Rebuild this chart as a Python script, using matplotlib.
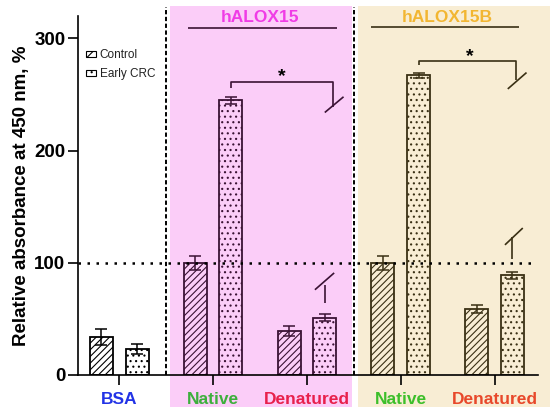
import matplotlib.pyplot as plt
from matplotlib.patches import Patch, Rectangle
from matplotlib.transforms import blended_transform_factory

plt.rcParams.update({
    "font.family": ["Liberation Sans", "DejaVu Sans"],
    "font.weight": "bold",
    "axes.labelweight": "bold",
    "hatch.linewidth": 0.8,
})

PINK = "#FBCDF8"
BEIGE = "#F8EDD4"
PINK_EDGE = "#3A1234"
BEIGE_EDGE = "#3A3014"

groups = ["BSA", "Native", "Denatured", "Native", "Denatured"]
group_colors = ["#2233E6", "#3DAF3D", "#E8204C", "#3DBF2A", "#E8482A"]
control = [34, 100, 39, 100, 59]
control_err = [7, 6, 4.5, 6, 3.5]
early_crc = [23, 245, 51, 267, 89]
early_crc_err = [4.5, 3, 3, 2, 3]

face = ["white", PINK, PINK, BEIGE, BEIGE]
edge = ["black", PINK_EDGE, PINK_EDGE, BEIGE_EDGE, BEIGE_EDGE]

fig = plt.figure(figsize=(5.5, 4.15), dpi=100)
ax = fig.add_axes([0.1418, 0.0964, 0.836, 0.865])
ax.patch.set_alpha(0)
ax.set_xlim(-0.44, 4.46)
ax.set_ylim(0, 320)

blend = blended_transform_factory(ax.transData, ax.transAxes)
ax.add_patch(Rectangle((0.543, -0.089), 2.479 - 0.543, 1.117, transform=blend,
                       facecolor=PINK, edgecolor="none", zorder=0, clip_on=False))
ax.add_patch(Rectangle((2.54, -0.089), 2.1, 1.117, transform=blend,
                       facecolor=BEIGE, edgecolor="none", zorder=0, clip_on=False))

for xv in (0.5, 2.5):
    ax.plot([xv, xv], [0, 1.026], transform=blend, color="black", lw=1.4,
            ls=(0, (2.2, 1.3)), clip_on=False, zorder=1)

ax.axhline(100, xmin=0, xmax=0.99, color="black", lw=1.8, ls=(0, (1, 2.6)), zorder=4)

off = 0.19
width = 0.245
for i in range(len(groups)):
    ax.bar(i - off, control[i], width, facecolor=face[i], edgecolor=edge[i],
           hatch="/////", lw=1.3, zorder=2)
    ax.bar(i + off, early_crc[i], width, facecolor=face[i], edgecolor=edge[i],
           hatch="...", lw=1.3, zorder=2)
    ax.errorbar(i - off, control[i], yerr=control_err[i], color=edge[i], capsize=4.5,
                lw=1.1, capthick=1.1, zorder=3)
    ax.errorbar(i + off, early_crc[i], yerr=early_crc_err[i], color=edge[i], capsize=4.5,
                lw=1.1, capthick=1.1, zorder=3)

# significance brackets with axis-break slashes
def seg(xs, ys, c):
    ax.plot(xs, ys, color=c, lw=1.2, clip_on=False, zorder=3, solid_capstyle="butt")

seg([1.19, 1.19, 2.28, 2.28], [256, 261.6, 261.6, 239], PINK_EDGE)
seg([2.19, 2.39], [234, 248], PINK_EDGE)
seg([2.19, 2.19], [64, 80], PINK_EDGE)
seg([2.085, 2.29], [76, 91], PINK_EDGE)
ax.text(1.73, 266, "*", ha="center", va="center", fontsize=14, color="black")

seg([3.19, 3.19, 4.23, 4.23], [276, 279.5, 279.5, 263.4], BEIGE_EDGE)
seg([4.14, 4.34], [255, 269.6], BEIGE_EDGE)
seg([4.19, 4.19], [103.6, 123], BEIGE_EDGE)
seg([4.11, 4.30], [116, 131], BEIGE_EDGE)
ax.text(3.73, 284, "*", ha="center", va="center", fontsize=14, color="black")

seg([0.73, 2.32], [309, 309], PINK_EDGE)
seg([2.68, 4.26], [310, 310], BEIGE_EDGE)
ax.text(1.5, 319, "hALOX15", ha="center", va="center", fontsize=12.5, color="#F03CE6")
ax.text(3.5, 319, "hALOX15B", ha="center", va="center", fontsize=12.5, color="#F2B632")

for s in ("top", "right"):
    ax.spines[s].set_visible(False)
ax.spines["left"].set_linewidth(1.2)
ax.spines["bottom"].set_linewidth(1.2)

ax.set_yticks([0, 100, 200, 300])
ax.tick_params(axis="y", labelsize=13.5, length=7, width=1.2, pad=2)
ax.set_xticks(range(len(groups)))
ax.set_xticklabels(groups, fontsize=12.5)
ax.tick_params(axis="x", length=7, width=1.2, pad=5)
for lab, c in zip(ax.get_xticklabels(), group_colors):
    lab.set_color(c)
ax.set_ylabel("Relative absorbance at 450 nm, %", fontsize=13.5, labelpad=3)

handles = [
    Patch(facecolor="white", edgecolor="black", hatch="///", lw=0.8, label="Control"),
    Patch(facecolor="white", edgecolor="black", hatch="...", lw=0.8, label="Early CRC"),
]
leg = ax.legend(handles=handles, loc="upper left", bbox_to_anchor=(0.0, 0.93),
                frameon=False, handlelength=0.8, handleheight=0.45, handletextpad=0.35,
                labelspacing=0.6, borderaxespad=0.3,
                prop={"size": 8.5, "weight": "normal"})
for t in leg.get_texts():
    t.set_color("#222222")

fig.savefig("out.png", dpi=100)
